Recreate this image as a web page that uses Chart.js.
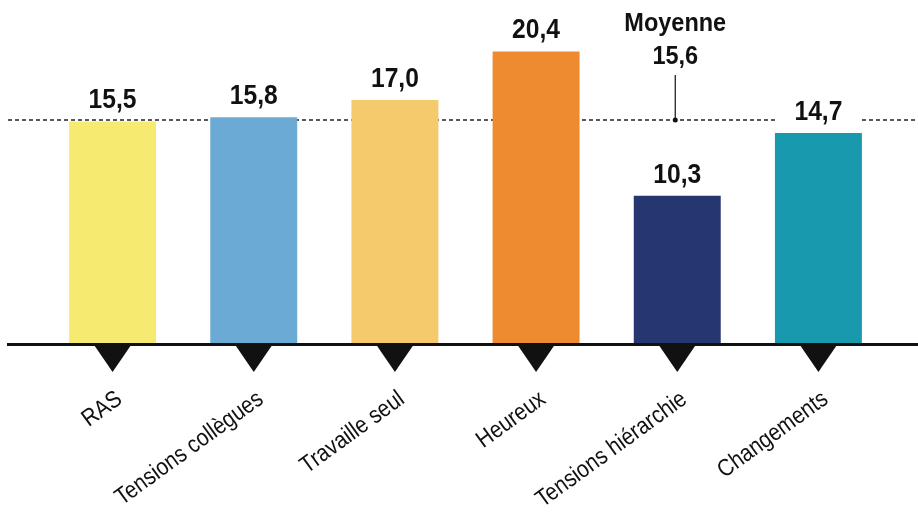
<!DOCTYPE html>
<html lang="fr">
<head>
<meta charset="utf-8">
<script src="https://cdn.jsdelivr.net/npm/chart.js@4.4.1/dist/chart.umd.min.js"></script>
<style>
  html, body { margin: 0; padding: 0; background: #fff; }
</style>
</head>
<body>
<canvas id="chart" width="918" height="513"></canvas>
<script>
const categories = ['RAS', 'Tensions collègues', 'Travaille seul', 'Heureux', 'Tensions hiérarchie', 'Changements'];
const values = [15.5, 15.8, 17.0, 20.4, 10.3, 14.7];
const barColors = ['#f7ea70', '#6baad4', '#f4ca6c', '#ee8a2f', '#263670', '#1899ad'];
const average = 15.6;
const averageTitle = 'Moyenne';

const FONT = '"Liberation Sans", Arial, sans-serif';
const fmt = v => v.toFixed(1).replace('.', ',');

// text squeezed horizontally to get a condensed look
function narrowText(ctx, text, x, y, squeeze) {
  ctx.save();
  ctx.translate(x, y);
  ctx.scale(squeeze, 1);
  ctx.fillText(text, 0, 0);
  ctx.restore();
}

// dashed average line behind the bars, then labels, baseline and markers on top
const decorations = {
  id: 'decorations',
  beforeDatasetsDraw(chart) {
    const { ctx, scales: { y } } = chart;
    const yAvg = y.getPixelForValue(average);
    ctx.save();
    ctx.strokeStyle = '#222';
    ctx.lineWidth = 1.5;
    ctx.setLineDash([4, 3]);
    ctx.beginPath();
    ctx.moveTo(8, yAvg);
    ctx.lineTo(chart.width, yAvg);
    ctx.stroke();
    ctx.restore();
  },
  afterDatasetsDraw(chart) {
    const { ctx, scales: { x, y } } = chart;
    const meta = chart.getDatasetMeta(0);
    const base = y.getPixelForValue(0);
    const yAvg = y.getPixelForValue(average);
    ctx.save();

    // value labels with a white box so the dashed line breaks behind them
    ctx.font = 'bold 28px ' + FONT;
    ctx.textAlign = 'center';
    ctx.textBaseline = 'alphabetic';
    meta.data.forEach((bar, i) => {
      const top = y.getPixelForValue(values[i]);
      ctx.fillStyle = '#fff';
      ctx.fillRect(bar.x - bar.width / 2, top - 36, bar.width, 31);
      ctx.fillStyle = '#111';
      narrowText(ctx, fmt(values[i]), bar.x, top - 13, 0.88);
    });

    // baseline
    ctx.fillStyle = '#111';
    ctx.fillRect(7, base, chart.width - 7, 3);

    // triangle markers under each bar
    meta.data.forEach(bar => {
      ctx.beginPath();
      ctx.moveTo(bar.x - 18.5, base + 2);
      ctx.lineTo(bar.x + 18.5, base + 2);
      ctx.lineTo(bar.x, base + 29);
      ctx.closePath();
      ctx.fill();
    });

    // rotated category labels, right end tucked under each marker
    ctx.font = '24px ' + FONT;
    ctx.textAlign = 'right';
    ctx.textBaseline = 'top';
    chart.data.labels.forEach((label, i) => {
      ctx.save();
      ctx.translate(x.getPixelForTick(i), base + 44);
      ctx.rotate(-36 * Math.PI / 180);
      ctx.scale(0.87, 1);
      ctx.fillText(label, 0, 0);
      ctx.restore();
    });

    // average callout
    const ax = x.getPixelForValue(4) - 2;
    ctx.strokeStyle = '#111';
    ctx.lineWidth = 1.2;
    ctx.beginPath();
    ctx.moveTo(ax, yAvg - 45);
    ctx.lineTo(ax, yAvg);
    ctx.stroke();
    ctx.beginPath();
    ctx.arc(ax, yAvg, 2.5, 0, Math.PI * 2);
    ctx.fill();
    ctx.font = 'bold 25px ' + FONT;
    ctx.textAlign = 'center';
    ctx.textBaseline = 'alphabetic';
    narrowText(ctx, averageTitle, ax, yAvg - 89, 0.94);
    narrowText(ctx, fmt(average), ax, yAvg - 56, 0.94);
    ctx.restore();
  }
};

new Chart(document.getElementById('chart'), {
  type: 'bar',
  data: {
    labels: categories,
    datasets: [{
      data: values,
      backgroundColor: barColors,
      barPercentage: 0.616,
      categoryPercentage: 1
    }]
  },
  options: {
    responsive: false,
    animation: false,
    layout: { padding: { left: 42, right: 29, top: 0, bottom: 0 } },
    plugins: { legend: { display: false }, tooltip: { enabled: false } },
    scales: {
      y: { display: false, min: 0, max: 24 },
      x: {
        grid: { display: false, drawTicks: false },
        border: { display: false },
        ticks: { display: false },
        afterFit(scale) { scale.height = 170; }
      }
    }
  },
  plugins: [decorations]
});
</script>
</body>
</html>
